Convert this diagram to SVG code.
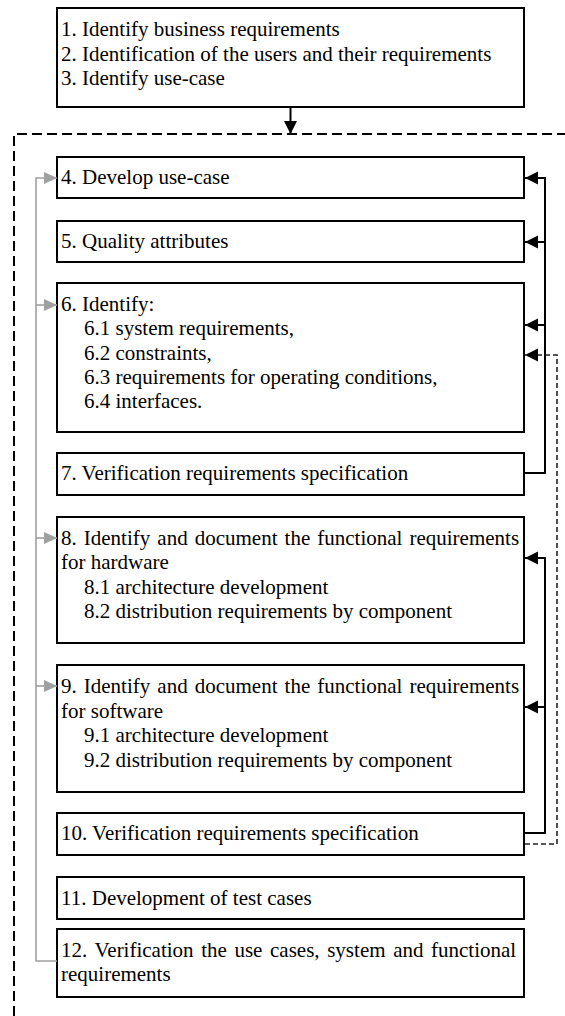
<svg xmlns="http://www.w3.org/2000/svg" width="565" height="1016" viewBox="0 0 565 1016">
<style>
.box{fill:#fff;stroke:#000;stroke-width:2}
text{font-family:"Liberation Serif","Times New Roman",serif;font-size:21px;fill:#000}
.blk{fill:none;stroke:#000;stroke-width:2}
.gry{fill:none;stroke:#a0a0a0;stroke-width:1.6}
.dsh{fill:none;stroke:#222;stroke-width:1.6;stroke-dasharray:5 3}
.outer{fill:none;stroke:#000;stroke-width:2;stroke-dasharray:10 5}
</style>
<defs>
<marker id="ab" markerUnits="userSpaceOnUse" markerWidth="14" markerHeight="14" refX="13" refY="6.5" orient="auto"><path d="M0,0 L13,6.5 L0,13 Z" fill="#000"/></marker>
<marker id="ag" markerUnits="userSpaceOnUse" markerWidth="14" markerHeight="14" refX="13" refY="6" orient="auto"><path d="M0,0 L13,6 L0,12 Z" fill="#a0a0a0"/></marker>
</defs>
<rect width="565" height="1016" fill="#fff"/>
<path class="outer" d="M14 1016 V134 H565"/>
<g id="n1"><rect class="box" x="57" y="8" width="467" height="99"/>
<text x="61" y="36">1. Identify business requirements</text>
<text x="61" y="60.5">2. Identification of the users and their requirements</text>
<text x="61" y="85">3. Identify use-case</text></g>
<g id="n4"><rect class="box" x="57" y="157" width="467" height="41"/><text x="61" y="184">4. Develop use-case</text></g>
<g id="n5"><rect class="box" x="57" y="221" width="467" height="41"/><text x="61" y="248">5. Quality attributes</text></g>
<g id="n6"><rect class="box" x="57" y="283" width="467" height="149"/>
<text x="61" y="311">6. Identify:</text>
<text x="84" y="335.3">6.1 system requirements,</text>
<text x="84" y="359.6">6.2 constraints,</text>
<text x="84" y="383.9">6.3 requirements for operating conditions,</text>
<text x="84" y="408.2">6.4 interfaces.</text></g>
<g id="n7"><rect class="box" x="57" y="453" width="467" height="42"/><text x="61" y="480">7. Verification requirements specification</text></g>
<g id="n8"><rect class="box" x="57" y="517" width="467" height="126"/>
<text x="61" y="545" word-spacing="1.8">8. Identify and document the functional requirements</text>
<text x="61" y="569">for hardware</text>
<text x="84" y="593.5">8.1 architecture development</text>
<text x="84" y="618">8.2 distribution requirements by component</text></g>
<g id="n9"><rect class="box" x="57" y="665" width="467" height="127"/>
<text x="61" y="693" word-spacing="1.8">9. Identify and document the functional requirements</text>
<text x="61" y="717.5">for software</text>
<text x="84" y="742">9.1 architecture development</text>
<text x="84" y="766.5">9.2 distribution requirements by component</text></g>
<g id="n10"><rect class="box" x="57" y="813" width="467" height="42"/><text x="61" y="840">10. Verification requirements specification</text></g>
<g id="n11"><rect class="box" x="57" y="877" width="467" height="42"/><text x="61" y="905">11. Development of test cases</text></g>
<g id="n12"><rect class="box" x="57" y="929" width="467" height="68"/>
<text x="61" y="957" word-spacing="2.35">12. Verification the use cases, system and functional</text>
<text x="61" y="981">requirements</text></g>
<g id="connectors">
<path class="blk" d="M290.5 107 V134" marker-end="url(#ab)"/>
<path class="gry" d="M57 961 H36 V178 H57" marker-end="url(#ag)"/>
<path class="gry" d="M36 305 H57" marker-end="url(#ag)"/>
<path class="gry" d="M36 538 H57" marker-end="url(#ag)"/>
<path class="gry" d="M36 686 H57" marker-end="url(#ag)"/>
<path class="blk" d="M525 473 H545 V178 H525" marker-end="url(#ab)"/>
<path class="blk" d="M545 242 H525" marker-end="url(#ab)"/>
<path class="blk" d="M545 325 H525" marker-end="url(#ab)"/>
<path class="blk" d="M525 833 H545 V558 H525" marker-end="url(#ab)"/>
<path class="blk" d="M545 707 H525" marker-end="url(#ab)"/>
<path class="dsh" d="M525 844 H557 V355 H525" marker-end="url(#ab)"/>
</g>
</svg>
